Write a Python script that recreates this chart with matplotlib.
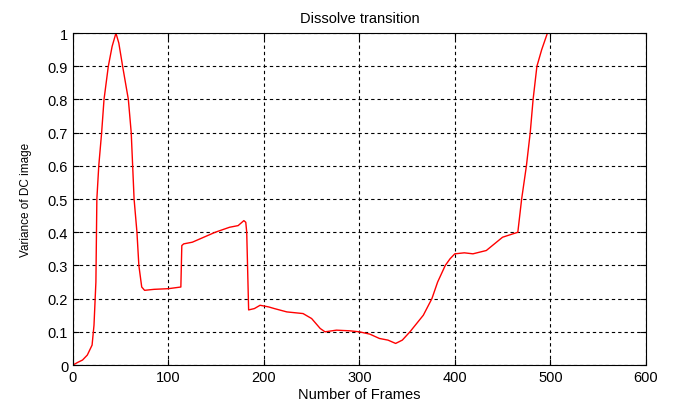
import numpy as np
import matplotlib.pyplot as plt

plt.rcParams['font.family'] = ['Liberation Sans', 'DejaVu Sans']

# frame index / normalised variance of the DC image
frames = [0, 5, 10, 15, 20, 22, 24, 25, 27, 30, 32.5, 37, 41, 45, 48, 52, 58, 61,
          64, 67, 69, 72, 75, 85, 100, 113, 114, 116, 125, 133, 149, 164, 173,
          179, 181, 182, 184, 190, 196, 205, 211, 224, 241, 250, 259, 264, 276,
          290, 300, 311, 321, 330, 338, 345, 353, 367, 376, 382, 390, 395, 400,
          410, 419, 433, 450, 466, 470, 475, 479, 482, 486, 491, 497]
variance = [0.0, 0.008, 0.015, 0.03, 0.06, 0.12, 0.25, 0.5, 0.6, 0.7, 0.8, 0.9,
            0.96, 1.0, 0.97, 0.9, 0.8, 0.7, 0.5, 0.4, 0.3, 0.235, 0.225, 0.228,
            0.23, 0.235, 0.36, 0.365, 0.37, 0.38, 0.40, 0.415, 0.42, 0.435, 0.43,
            0.40, 0.166, 0.17, 0.18, 0.175, 0.17, 0.16, 0.155, 0.14, 0.11, 0.10,
            0.105, 0.103, 0.10, 0.093, 0.08, 0.075, 0.065, 0.075, 0.10, 0.15,
            0.20, 0.25, 0.30, 0.32, 0.335, 0.338, 0.335, 0.345, 0.385, 0.40, 0.5,
            0.6, 0.7, 0.8, 0.9, 0.95, 1.0]

fig = plt.figure(figsize=(6.79, 4.06), dpi=100)
ax = fig.add_axes([0.1075, 0.0985, 0.8435, 0.8175])

ax.plot(frames, variance, color='red', lw=1.0)

ax.set_xlim(0, 600)
ax.set_ylim(0, 1)
ax.set_xticks(np.arange(0, 601, 100))
ax.set_yticks(np.arange(0, 1.01, 0.1))
ax.set_yticklabels(['0', '0.1', '0.2', '0.3', '0.4', '0.5', '0.6', '0.7', '0.8', '0.9', '1'])
ax.grid(True, color='black', linestyle=(0, (3, 2.7)), lw=0.8)
ax.tick_params(direction='in', length=4, labelsize=10.5, top=True, right=True,
               labeltop=False, labelright=False)
for s in ax.spines.values():
    s.set_linewidth(0.8)

ax.set_title('Dissolve transition', fontsize=10.5, pad=8)
ax.set_xlabel('Number of Frames', fontsize=10.5, labelpad=2)
ax.set_ylabel('Variance of DC image', fontsize=8.5, labelpad=11)

fig.savefig('out.png', dpi=100)
